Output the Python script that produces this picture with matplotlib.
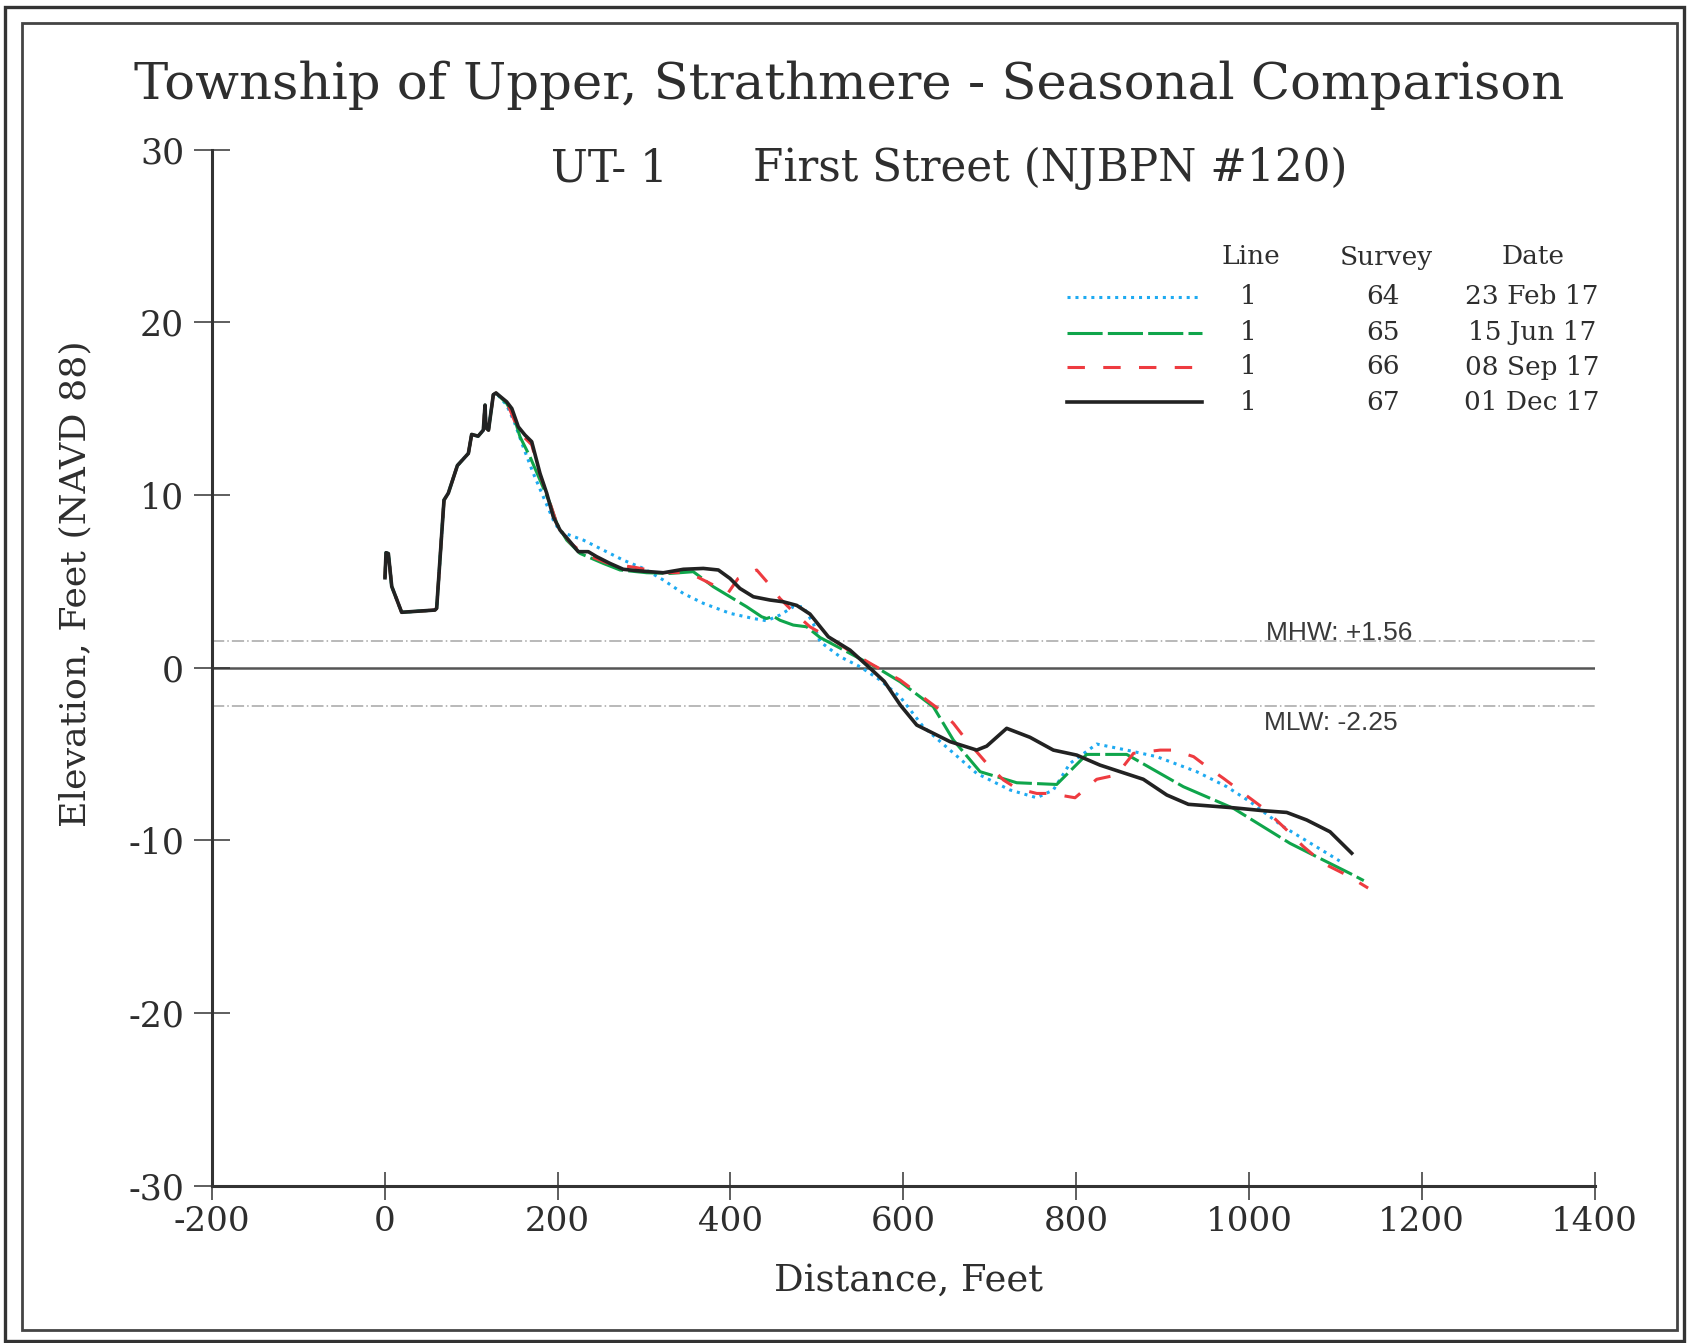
import numpy as np
import matplotlib
matplotlib.use("Agg")
import matplotlib.pyplot as plt
from matplotlib.lines import Line2D
from matplotlib.patches import Rectangle

# ---------------- data ----------------
DUNE_X = [0.2, 1.4, 4.1, 8.0, 19.5, 58.0, 60.0, 68.5, 73.5, 84.0, 96.7, 100.5, 108.0,
          114.0, 116.0, 117.0, 120.0, 125.6, 128.7]
DUNE_Y = [5.2, 6.65, 6.6, 4.7, 3.2, 3.33, 3.43, 9.7, 10.1, 11.7, 12.4, 13.5, 13.4,
          13.75, 15.2, 13.9, 13.75, 15.8, 15.9]

S64_X = [141, 150, 160, 171.9, 183.4, 195, 202.8, 229.8, 252.9, 276, 299.2, 322.3, 345.5,
         368.6, 399.5, 426.5, 441.9, 457.3, 472.7, 484.3, 495.9, 503.7, 526.8, 549.9, 573.1,
         596.3, 623.2, 654.1, 685, 723.6, 754.5, 773.7, 793, 823.9, 858.6, 893.3, 939.6,
         974.4, 1001.4, 1039.9, 1093.9, 1105]
S64_Y = [15.2, 14.2, 12.8, 11.24, 9.89, 8.54, 7.87, 7.38, 6.80, 6.22, 5.74, 5.07, 4.29,
         3.72, 3.14, 2.84, 2.71, 3.04, 3.52, 3.52, 2.55, 1.5, 0.63, 0.05, -0.72,
         -1.69, -3.43, -4.78, -6.13, -7.09, -7.54, -7.09, -5.55, -4.43, -4.78, -5.16, -6.03,
         -6.9, -7.77, -9.22, -10.86, -11.2]

S65_X = [141, 148.7, 156.5, 168, 179.6, 191.2, 199, 210.5, 225.9, 252.9, 272.2, 303.1, 330,
         357, 364.8, 380.2, 399.5, 418.8, 436.2, 441.9, 449.6, 457.3, 472.7, 488.2, 503.7,
         538.4, 569.3, 596.3, 634.8, 658, 688.9, 731.3, 777.6, 812.3, 858.6, 924.2, 982,
         1047.6, 1086.2, 1117, 1133]
S65_Y = [15.3, 14.62, 13.36, 12.21, 10.86, 9.51, 8.35, 7.38, 6.61, 6.03, 5.65, 5.49, 5.45,
         5.55, 5.26, 4.68, 4.10, 3.52, 2.94, 2.84, 2.97, 2.74, 2.46, 2.36, 1.74,
         0.82, 0.0, -0.82, -2.27, -4.2, -6.03, -6.67, -6.77, -5.03, -5.03, -6.9, -8.15,
         -10.18, -11.15, -11.92, -12.34]

S66_X = [141, 150, 160, 170, 180, 190, 200, 215, 230, 260, 290, 320, 345, 361, 380.2, 397,
         408.7, 430.4, 443.9, 457.3, 472.7, 492, 519, 542.1, 565.3, 596.3, 627.1, 642.5, 658,
         671.5, 696.6, 715.9, 731.3, 754.5, 769.9, 798.8, 823.9, 847, 866.4, 897.3, 912.8,
         936, 951.4, 970.7, 993.9, 1017, 1040, 1063.2, 1086.2, 1113.3, 1138]
S66_Y = [15.39, 14.3, 13.4, 12.9, 11.1, 9.7, 8.2, 7.2, 6.6, 6.0, 5.8, 5.5, 5.5, 5.26, 4.78, 4.3,
         5.15, 5.65, 4.87, 4.0, 3.23, 2.36, 1.59, 0.82, 0.14, -0.72, -1.88, -2.46, -3.23,
         -4.1, -5.55, -6.51, -7.0, -7.29, -7.29, -7.54, -6.47, -6.22, -4.97, -4.78, -4.78,
         -5.16, -5.74, -6.42, -7.29, -8.15, -9.22, -10.37, -11.34, -12.02, -12.77]

S67_X = [141, 147, 154.5, 162.3, 170, 179.6, 187.4, 195, 202.8, 214.3, 224, 235.5, 245.2,
         260.6, 276, 291.5, 322.3, 345.5, 368.6, 386, 399.5, 411, 426.5, 445.8, 461, 476.7,
         492, 513.3, 538.4, 557.7, 578, 597, 615.6, 654.1, 685, 696.6, 719.7, 746.7, 773.7,
         800.8, 827.7, 877.8, 905, 930, 982, 1016.7, 1043.8, 1067, 1093.9, 1119]
S67_Y = [15.39, 15.0, 13.94, 13.46, 13.08, 11.24, 10.09, 8.73, 7.96, 7.29, 6.71, 6.71, 6.42,
         6.03, 5.69, 5.61, 5.49, 5.69, 5.74, 5.65, 5.16, 4.58, 4.10, 3.91, 3.81, 3.6,
         3.1, 1.78, 1.01, 0.14, -0.8, -2.2, -3.33, -4.29, -4.78, -4.55, -3.52, -4.04, -4.78,
         -5.07, -5.65, -6.47, -7.38, -7.92, -8.12, -8.29, -8.39, -8.83, -9.51, -10.75]

LINES = ["1", "1", "1", "1"]
SURVEYS = ["64", "65", "66", "67"]
DATES = ["23 Feb 17", "15 Jun 17", "08 Sep 17", "01 Dec 17"]

MHW = 1.56
MLW = -2.25

X_TICKS = [-200, 0, 200, 400, 600, 800, 1000, 1200, 1400]
Y_TICKS = [-30, -20, -10, 0, 10, 20, 30]

# ---------------- figure ----------------
W, H = 1687, 1343
fig = plt.figure(figsize=(W / 100, H / 100), dpi=100)
SERIF = ["DejaVu Serif"]
SANS = ["Liberation Sans", "DejaVu Sans"]
TXT = "#2e2e2e"

def fx(px):
    return px / W

def fy(py):
    return 1 - py / H

# frames
fig.patches.append(Rectangle((fx(5), fy(1341)), fx(1684) - fx(5), fy(7) - fy(1341),
                             transform=fig.transFigure, fill=False, lw=2.4, ec="#333333"))
fig.patches.append(Rectangle((fx(22), fy(1330)), fx(1677) - fx(22), fy(23) - fy(1330),
                             transform=fig.transFigure, fill=False, lw=2.0, ec="#444444"))

ax = fig.add_axes([fx(212), fy(1185.6), fx(1594.5) - fx(212), fy(149.5) - fy(1185.6)])
ax.set_xlim(-200, 1400)
ax.set_ylim(-30, 30)
for s in ["top", "right"]:
    ax.spines[s].set_visible(False)
for s in ["left", "bottom"]:
    ax.spines[s].set_linewidth(2.2)
    ax.spines[s].set_color("#333333")
ax.set_xticks(X_TICKS)
ax.set_yticks(Y_TICKS)
ax.set_xticklabels([str(v) for v in X_TICKS])
ax.set_yticklabels([str(v) for v in Y_TICKS])
ax.tick_params(axis="x", direction="inout", length=19.5, width=1.1, color="#333333",
               pad=5, labelsize=24.5, labelcolor=TXT)
ax.tick_params(axis="y", direction="inout", length=26, width=1.1, color="#333333",
               pad=7, labelsize=25, labelcolor=TXT)
for lab in ax.get_xticklabels() + ax.get_yticklabels():
    lab.set_family(SERIF)

# reference lines
ax.axhline(0, color="#555555", lw=1.8, zorder=1)
ax.axhline(MHW, color="#a6a6a6", lw=1.1, ls=(0, (8, 2, 1, 2)), zorder=1)
ax.axhline(MLW, color="#a6a6a6", lw=1.1, ls=(0, (8, 2, 1, 2)), zorder=1)
ax.text(1020, MHW + 0.05, "MHW: +1.56", family=SANS, fontsize=19, color="#3a3a3a",
        ha="left", va="baseline")
ax.text(1018, MLW - 0.25, "MLW: -2.25", family=SANS, fontsize=19, color="#3a3a3a",
        ha="left", va="top")

styles = [
    dict(color="#1eaaf1", lw=2.2, ls=(0, (1, 1.6))),
    dict(color="#0fa54b", lw=2.2, ls=(0, (11.5, 1.7))),
    dict(color="#ee3b40", lw=2.2, ls=(0, (5.7, 6))),
    dict(color="#222222", lw=2.6, ls="-"),
]
series = [(S64_X, S64_Y), (S65_X, S65_Y), (S66_X, S66_Y), (S67_X, S67_Y)]
for (sx, sy), st in zip(series, styles):
    ax.plot(DUNE_X + sx, DUNE_Y + sy, zorder=3, **st)

# titles and labels
fig.text(fx(849), fy(99), "Township of Upper, Strathmere - Seasonal Comparison",
         family=SERIF, fontsize=36.9, color=TXT, ha="center", va="baseline")
fig.text(fx(551), fy(181), "UT- 1", family=SERIF, fontsize=31.5, color=TXT,
         ha="left", va="baseline")
fig.text(fx(753), fy(181), "First Street (NJBPN #120)", family=SERIF, fontsize=31.5,
         color=TXT, ha="left", va="baseline")
fig.text(fx(908), fy(1291), "Distance, Feet", family=SERIF, fontsize=26.6, color=TXT,
         ha="center", va="baseline")
fig.text(fx(75), fy(584), "Elevation, Feet (NAVD 88)", family=SERIF, fontsize=26.2,
         color=TXT, ha="center", va="center", rotation=90)

# legend table
LFS = 19
hdr_y = 257
fig.text(fx(1251), fy(hdr_y), "Line", family=SERIF, fontsize=LFS, color=TXT,
         ha="center", va="center")
fig.text(fx(1386), fy(hdr_y), "Survey", family=SERIF, fontsize=LFS, color=TXT,
         ha="center", va="center")
fig.text(fx(1533), fy(hdr_y), "Date", family=SERIF, fontsize=LFS, color=TXT,
         ha="center", va="center")
row_y = [297, 332.5, 367, 402]
for ry, st, ln, sv, dt in zip(row_y, styles, LINES, SURVEYS, DATES):
    fig.lines.append(Line2D([fx(1067), fx(1202)], [fy(ry), fy(ry)],
                            transform=fig.transFigure, **st))
    fig.text(fx(1248), fy(ry), ln, family=SERIF, fontsize=LFS, color=TXT,
             ha="center", va="center")
    fig.text(fx(1383), fy(ry), sv, family=SERIF, fontsize=LFS, color=TXT,
             ha="center", va="center")
    fig.text(fx(1532), fy(ry), dt, family=SERIF, fontsize=LFS, color=TXT,
             ha="center", va="center")

fig.savefig("out.png", dpi=100, facecolor="white")
